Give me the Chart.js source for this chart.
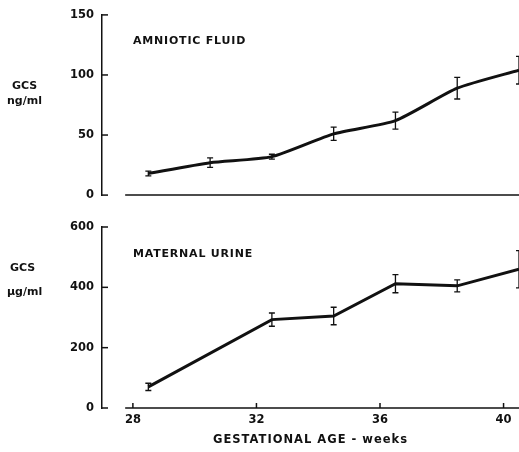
<!DOCTYPE html>
<html>
<head>
<meta charset="utf-8">
<script src="https://cdn.jsdelivr.net/npm/chart.js@4/dist/chart.umd.min.js"></script>
<style>
  body { margin: 0; background: #fff; }
  #wrap { position: relative; width: 519px; height: 452px; overflow: hidden; font-family: 'DejaVu Sans', sans-serif; color: #111; }
  canvas { position: absolute; left: 0; }
  .lbl { position: absolute; font-size: 11px; font-weight: bold; white-space: nowrap; line-height: 1; }
  .panel { font-size: 11px; letter-spacing: 0.8px; }
  .xtitle { font-size: 11.5px; letter-spacing: 1px; }
</style>
</head>
<body>
<div id="wrap">
  <canvas id="top" width="519" height="210" style="top:0"></canvas>
  <canvas id="bottom" width="519" height="242" style="top:210px"></canvas>
  <div class="lbl" style="left:12px;top:80px">GCS</div>
  <div class="lbl" style="left:7px;top:95px">ng/ml</div>
  <div class="lbl panel" style="left:133px;top:35px">AMNIOTIC FLUID</div>
  <div class="lbl" style="left:10px;top:262px">GCS</div>
  <div class="lbl" style="left:7px;top:286px">µg/ml</div>
  <div class="lbl panel" style="left:133px;top:248px">MATERNAL URINE</div>
  <div class="lbl xtitle" style="left:213px;top:434px">GESTATIONAL AGE - weeks</div>
</div>
<script>
// gestational age (weeks) and GCS mean / error for each panel
const weeksAF = [28.5, 30.5, 32.5, 34.5, 36.5, 38.5, 40.5];
const gcsAF = [18, 27, 32, 51, 62, 89, 104];
const errAF = [2, 4, 2, 5.5, 7, 9, 11.5];

const weeksMU = [28.5, 32.5, 34.5, 36.5, 38.5, 40.5];
const gcsMU = [70, 293, 305, 412, 405, 460];
const errMU = [12, 22, 29, 30, 20, 62];

const xTicks = [28, 32, 36, 40];
const yTicksAF = [0, 50, 100, 150];
const yTicksMU = [0, 200, 400, 600];
const xMin = 27, xMax = 40.5;
const baselineStart = 27.75;

const INK = '#111';
const tickFont = { family: 'DejaVu Sans', size: 11.5, weight: 'bold' };

// error bars, inward y ticks and the detached x baseline
const axisDecor = {
    id: 'axisDecor',
    afterDatasetsDraw(chart, args, opts) {
        const ctx = chart.ctx;
        const x = chart.scales.x, y = chart.scales.y;
        const area = chart.chartArea;
        ctx.save();
        ctx.strokeStyle = INK;

        // error bars
        ctx.lineWidth = 1.3;
        const ds = chart.data.datasets[0].data;
        opts.errors.forEach((e, i) => {
            const px = x.getPixelForValue(ds[i].x);
            const hi = y.getPixelForValue(ds[i].y + e);
            const lo = y.getPixelForValue(ds[i].y - e);
            ctx.beginPath();
            ctx.moveTo(px, hi); ctx.lineTo(px, lo);
            ctx.moveTo(px - 3, hi); ctx.lineTo(px + 3, hi);
            ctx.moveTo(px - 3, lo); ctx.lineTo(px + 3, lo);
            ctx.stroke();
        });

        // inward y ticks
        ctx.lineWidth = 1.5;
        y.ticks.forEach(t => {
            const py = y.getPixelForValue(t.value);
            ctx.beginPath();
            ctx.moveTo(area.left, py); ctx.lineTo(area.left + 6, py);
            ctx.stroke();
        });

        // x baseline starting a little right of the y axis
        const by = y.getPixelForValue(0);
        ctx.beginPath();
        ctx.moveTo(x.getPixelForValue(baselineStart), by);
        ctx.lineTo(area.right, by);
        ctx.stroke();

        if (opts.xTicks) {
            xTicks.forEach(v => {
                const px = x.getPixelForValue(v);
                ctx.beginPath();
                ctx.moveTo(px, by); ctx.lineTo(px, by - 5);
                ctx.stroke();
            });
        }
        ctx.restore();
    }
};

function makeChart(id, weeks, values, errors, yMax, yTicks, showX, padTop) {
    return new Chart(document.getElementById(id), {
        type: 'line',
        data: {
            datasets: [{
                data: weeks.map((w, i) => ({ x: w, y: values[i] })),
                borderColor: INK,
                borderWidth: 3,
                pointRadius: 0,
                tension: showX ? 0 : 0.2,
                fill: false
            }]
        },
        options: {
            responsive: false,
            animation: false,
            layout: { padding: { top: padTop, bottom: showX ? 0 : 14, left: 0, right: 0 } },
            plugins: {
                legend: { display: false },
                tooltip: { enabled: false },
                axisDecor: { errors: errors, xTicks: showX }
            },
            scales: {
                x: {
                    type: 'linear',
                    min: xMin,
                    max: xMax,
                    display: showX,
                    afterBuildTicks: s => { s.ticks = xTicks.map(v => ({ value: v })); },
                    afterFit: s => { if (showX) s.height = 44; },
                    grid: { display: false, drawTicks: false },
                    border: { display: false },
                    ticks: { color: INK, font: tickFont, padding: 5 }
                },
                y: {
                    min: 0,
                    max: yMax,
                    afterBuildTicks: s => { s.ticks = yTicks.map(v => ({ value: v })); },
                    afterFit: s => { s.width = 102; },
                    grid: { display: false, drawTicks: false },
                    border: { display: true, color: INK, width: 1.5 },
                    ticks: { color: INK, font: tickFont, padding: 8 }
                }
            }
        },
        plugins: [axisDecor]
    });
}

makeChart('top', weeksAF, gcsAF, errAF, 150, yTicksAF, false, 13);
makeChart('bottom', weeksMU, gcsMU, errMU, 600, yTicksMU, true, 17);
</script>
</body>
</html>
